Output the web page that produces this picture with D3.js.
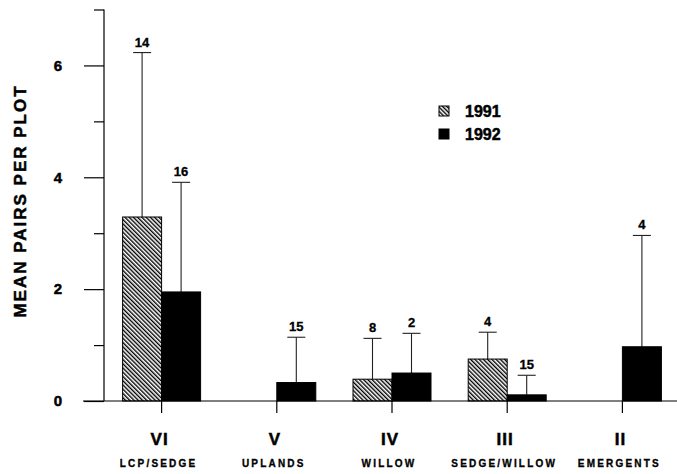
<!DOCTYPE html>
<html lang="en">
<head>
    <meta charset="UTF-8">
    <title>Mean pairs per plot</title>
    <script src="https://d3js.org/d3.v7.min.js"></script>
    <style>
        body { margin: 0; background: #fff; }
        text { font-family: "Liberation Sans", Arial, sans-serif; font-weight: bold; fill: #000; }
        .heavy { stroke: #000; stroke-width: 0.5px; }
    </style>
</head>
<body>
    <svg id="chart"></svg>

    <script>
        const categories = ["VI", "V", "IV", "III", "II"];
        const habitats = ["LCP/SEDGE", "UPLANDS", "WILLOW", "SEDGE/WILLOW", "EMERGENTS"];
        const years = ["1991", "1992"];

        // mean, error (above the mean) and sample size n; null = no bar
        const mean1991 = [3.29, null, 0.39, 0.75, null];
        const err1991 = [2.94, null, 0.73, 0.48, null];
        const n1991 = [14, null, 8, 4, null];

        const mean1992 = [1.95, 0.33, 0.50, 0.11, 0.97];
        const err1992 = [1.96, 0.81, 0.71, 0.35, 1.99];
        const n1992 = [16, 15, 2, 15, 4];

        const majorTicks = [0, 2, 4, 6];
        const minorTicks = [1, 3, 5, 7];

        const width = 677;
        const height = 474;

        const svg = d3.select("#chart")
            .attr("width", width)
            .attr("height", height);

        const defs = svg.append("defs");
        defs.append("pattern")
            .attr("id", "hatch")
            .attr("patternUnits", "userSpaceOnUse")
            .attr("width", 3)
            .attr("height", 3)
            .attr("patternTransform", "rotate(-45)")
            .append("rect")
            .attr("x", 0).attr("y", 0)
            .attr("width", 1.4).attr("height", 3)
            .attr("fill", "#000");

        const x = d3.scaleBand()
            .domain(categories)
            .range([104, 680])
            .padding(0);

        const xSub = d3.scaleBand()
            .domain(years)
            .range([-39, 39]);

        const y = d3.scaleLinear()
            .domain([0, 7])
            .range([401, 9.5]);

        const fills = { "1991": "url(#hatch)", "1992": "#000" };

        // y axis: major ticks with labels, minor ticks shorter
        svg.append("g")
            .attr("transform", "translate(104,0)")
            .call(d3.axisLeft(y).tickValues(majorTicks).tickSize(20).tickPadding(22).tickFormat(d3.format("d")))
            .call(g => g.select(".domain").remove())
            .call(g => g.selectAll("line").attr("stroke", "#000").attr("stroke-width", 1.2))
            .call(g => g.selectAll("text").attr("class", "heavy").style("font-size", "15px").attr("font-family", null));

        svg.append("g")
            .attr("transform", "translate(104,0)")
            .call(d3.axisLeft(y).tickValues(minorTicks).tickSize(10).tickFormat(""))
            .call(g => g.select(".domain").attr("stroke", "#000").attr("stroke-width", 1.2)
                .attr("d", `M0,${y(7)}V${y(0)}`))
            .call(g => g.selectAll("line").attr("stroke", "#000").attr("stroke-width", 1.2));

        // baseline and category ticks
        svg.append("line")
            .attr("x1", 83).attr("x2", 677)
            .attr("y1", y(0)).attr("y2", y(0))
            .attr("stroke", "#000").attr("stroke-width", 1.2);

        svg.append("g")
            .attr("transform", `translate(0,${y(0)})`)
            .call(d3.axisBottom(x).tickSize(12).tickFormat(""))
            .call(g => g.select(".domain").remove())
            .call(g => g.selectAll("line").attr("stroke", "#000").attr("stroke-width", 1.2));

        // bars
        const rows = [];
        categories.forEach((c, i) => {
            rows.push({ cat: c, year: "1991", mean: mean1991[i], err: err1991[i], n: n1991[i] });
            rows.push({ cat: c, year: "1992", mean: mean1992[i], err: err1992[i], n: n1992[i] });
        });
        const bars = rows.filter(d => d.mean !== null);
        const cx = d => x(d.cat) + x.bandwidth() / 2 + xSub(d.year);

        // error bars
        const errG = svg.append("g").attr("stroke", "#222").attr("stroke-width", 1.1);
        errG.selectAll(".stem")
            .data(bars)
            .enter()
            .append("line")
            .attr("x1", d => cx(d) + xSub.bandwidth() / 2)
            .attr("x2", d => cx(d) + xSub.bandwidth() / 2)
            .attr("y1", d => y(d.mean))
            .attr("y2", d => y(d.mean + d.err));
        errG.selectAll(".cap")
            .data(bars)
            .enter()
            .append("line")
            .attr("x1", d => cx(d) + xSub.bandwidth() / 2 - 9)
            .attr("x2", d => cx(d) + xSub.bandwidth() / 2 + 9)
            .attr("y1", d => y(d.mean + d.err))
            .attr("y2", d => y(d.mean + d.err));

        svg.selectAll(".bar")
            .data(bars)
            .enter()
            .append("rect")
            .attr("x", d => cx(d))
            .attr("y", d => y(d.mean))
            .attr("width", xSub.bandwidth())
            .attr("height", d => y(0) - y(d.mean))
            .attr("fill", d => fills[d.year])
            .attr("stroke", "#000")
            .attr("stroke-width", 1);

        // sample sizes
        svg.selectAll(".n")
            .data(bars)
            .enter()
            .append("text")
            .attr("class", "heavy")
            .attr("x", d => cx(d) + xSub.bandwidth() / 2)
            .attr("y", d => y(d.mean + d.err) - 6)
            .attr("text-anchor", "middle")
            .style("font-size", "13px")
            .style("stroke-width", "0.3px")
            .text(d => d.n);

        // category labels
        svg.selectAll(".roman")
            .data(categories)
            .enter()
            .append("text")
            .attr("class", "heavy")
            .attr("x", d => x(d) + x.bandwidth() / 2 - 2)
            .attr("y", 445)
            .attr("text-anchor", "middle")
            .style("font-size", "17px")
            .style("letter-spacing", "1px")
            .text(d => d);

        svg.selectAll(".habitat")
            .data(habitats)
            .enter()
            .append("text")
            .attr("class", "heavy")
            .attr("x", (d, i) => x(categories[i]) + x.bandwidth() / 2 - 3)
            .attr("y", 467)
            .attr("text-anchor", "middle")
            .style("font-size", "10px")
            .style("stroke-width", "0.3px")
            .style("letter-spacing", "2.2px")
            .text(d => d);

        // y label
        svg.append("text")
            .attr("class", "heavy")
            .attr("transform", "translate(26,201) rotate(-90)")
            .attr("text-anchor", "middle")
            .style("font-size", "17px")
            .style("letter-spacing", "2px")
            .text("MEAN PAIRS PER PLOT");

        // legend
        const legend = svg.append("g");
        years.forEach((yr, i) => {
            legend.append("rect")
                .attr("x", 439).attr("y", 106 + i * 23)
                .attr("width", 10).attr("height", 10)
                .attr("fill", fills[yr])
                .attr("stroke", "#000").attr("stroke-width", 1);
            legend.append("text")
                .attr("class", "heavy")
                .attr("x", 465).attr("y", 117 + i * 22.5)
                .style("font-size", "16px")
                .text(yr);
        });
    </script>
</body>
</html>
